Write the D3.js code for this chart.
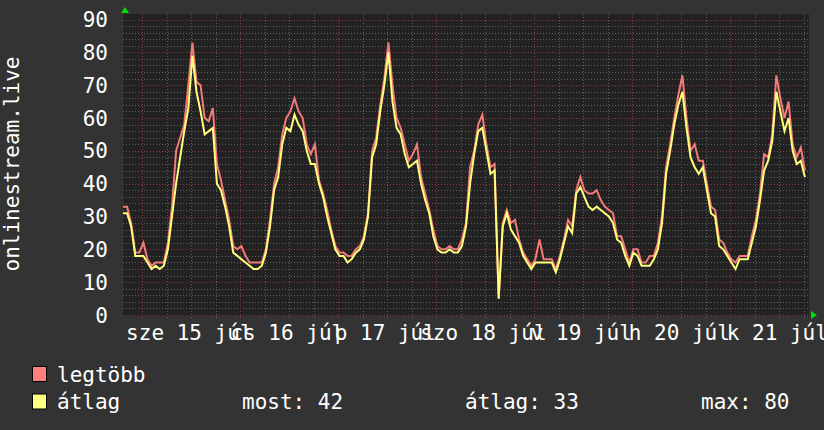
<!DOCTYPE html>
<html>
<head>
<meta charset="utf-8">
<script src="https://cdn.jsdelivr.net/npm/d3@7"></script>
<style>
  html, body { margin: 0; padding: 0; background: #333333; }
  svg { display: block; }
  text { font-family: "DejaVu Sans Mono", monospace; fill: #ffffff; }
</style>
</head>
<body>
<div id="chart"></div>
<script>
var width = 824,
	height = 430;

// data: one value per hour, starting at startTime
var startTime = new Date(2020, 6, 14, 19, 16);
var spanDays = 7;

var maxValues = [
	33, 33, 28, 19, 19, 22, 17, 15, 16, 16, 16, 22, 33, 50, 54, 58, 70, 83, 71, 70,
	60, 59, 63, 46, 41, 35, 29, 21, 20, 21, 18, 16, 16, 16, 16, 20, 29, 40, 45, 55,
	60, 62, 66, 62, 60, 52, 49, 52, 41, 37, 32, 26, 21, 19, 19, 18, 18, 20, 21, 24,
	31, 50, 54, 64, 72, 83, 70, 60, 57, 52, 47, 49, 52, 42, 37, 32, 26, 21, 20, 20,
	21, 20, 20, 23, 28, 45, 50, 58, 61, 52, 45, 46, 5, 28, 32, 28, 29, 23, 19, 17,
	15, 17, 23, 17, 17, 17, 14, 18, 23, 29, 27, 38, 42, 38, 37, 37, 38, 35, 33, 32,
	31, 24, 24, 20, 16, 20, 20, 16, 16, 18, 18, 22, 30, 45, 52, 60, 67, 73, 60, 50,
	52, 47, 47, 40, 33, 32, 23, 22, 19, 17, 16, 18, 18, 18, 24, 29, 37, 49, 48, 55,
	73, 66, 60, 65, 52, 48, 51, 44
];
var avgValues = [
	31, 31, 27, 18, 18, 18, 16, 14, 15, 14, 15, 20, 30, 40, 48, 56, 63, 79, 68, 62,
	55, 56, 57, 40, 38, 33, 27, 19, 18, 17, 16, 15, 14, 14, 15, 19, 27, 38, 42, 52,
	57, 56, 61, 58, 56, 50, 46, 46, 40, 36, 30, 25, 20, 18, 18, 16, 17, 19, 20, 23,
	30, 48, 52, 62, 70, 80, 65, 57, 55, 49, 45, 46, 47, 40, 35, 31, 24, 20, 19, 19,
	20, 19, 19, 21, 27, 40, 49, 56, 57, 50, 43, 44, 5, 27, 31, 26, 24, 22, 18, 16,
	14, 16, 16, 16, 16, 16, 13, 17, 22, 27, 25, 37, 39, 36, 33, 32, 33, 32, 31, 30,
	28, 23, 22, 18, 15, 19, 18, 15, 15, 15, 17, 20, 28, 43, 50, 58, 64, 68, 57, 48,
	45, 43, 45, 38, 31, 30, 21, 20, 18, 16, 14, 17, 17, 17, 22, 27, 35, 44, 47, 53,
	68, 62, 56, 60, 50, 46, 47, 42
];

var dayLabels = ["sze 15 júl", "cs 16 júl", "p 17 júl", "szo 18 júl", "v 19 júl", "h 20 júl", "k 21 júl"];
var firstLabelDay = new Date(2020, 6, 15);
var yTicks = [0, 10, 20, 30, 40, 50, 60, 70, 80, 90];
var yTitle = "onlinestream.live";

var legendItems = [
	{label: "legtöbb", color: "#ff7f7f"},
	{label: "átlag", color: "#ffff7f"}
];
var statLabels = ["most: 42", "átlag: 33", "max: 80"];

// layout
var plotLeft = 123, plotRight = 809, plotTop = 14, plotBottom = 316;

var x = d3.scaleTime()
	.domain([startTime, d3.timeDay.offset(startTime, spanDays)])
	.range([plotLeft, plotRight]);

var y = d3.scaleLinear()
	.domain([0, 90])
	.range([315, 19.5]);

var svg = d3.select('#chart')
	.append('svg')
	.attr('width', width)
	.attr('height', height);

svg.append('rect')
	.attr('width', width)
	.attr('height', height)
	.attr('fill', '#333333');

svg.append('rect')
	.attr('x', plotLeft)
	.attr('y', plotTop)
	.attr('width', plotRight - plotLeft)
	.attr('height', plotBottom - plotTop)
	.attr('fill', '#222222');

// horizontal grid
var yMinor = d3.range(0, 91, 2).filter(function(v) { return v % 10 != 0; });
svg.selectAll('.hminor')
	.data(yMinor)
	.enter().append('line')
	.attr('x1', plotLeft).attr('x2', plotRight)
	.attr('y1', function(d) { return Math.round(y(d)) + 0.5; })
	.attr('y2', function(d) { return Math.round(y(d)) + 0.5; })
	.attr('stroke', '#5e5e5e')
	.attr('stroke-dasharray', '1,2');

svg.selectAll('.hmajor')
	.data(yTicks)
	.enter().append('line')
	.attr('x1', plotLeft).attr('x2', plotRight)
	.attr('y1', function(d) { return Math.round(y(d)) + 0.5; })
	.attr('y2', function(d) { return Math.round(y(d)) + 0.5; })
	.attr('stroke', '#8a3a3a')
	.attr('stroke-dasharray', '1,2');

// vertical grid
var xMinor = x.ticks(d3.timeHour.every(6)).filter(function(d) { return d.getHours() != 0; });
var xMajor = x.ticks(d3.timeDay.every(1));

svg.selectAll('.vminor')
	.data(xMinor)
	.enter().append('line')
	.attr('x1', function(d) { return Math.round(x(d)) + 0.5; })
	.attr('x2', function(d) { return Math.round(x(d)) + 0.5; })
	.attr('y1', plotTop).attr('y2', 318)
	.attr('stroke', '#5e5e5e')
	.attr('stroke-dasharray', '1,2');

svg.selectAll('.vmajor')
	.data(xMajor)
	.enter().append('line')
	.attr('x1', function(d) { return Math.round(x(d)) + 0.5; })
	.attr('x2', function(d) { return Math.round(x(d)) + 0.5; })
	.attr('y1', plotTop).attr('y2', 318)
	.attr('stroke', '#8a3a3a')
	.attr('stroke-dasharray', '1,2');

// series
var times = maxValues.map(function(v, i) { return d3.timeHour.offset(startTime, i); });

var line = d3.line()
	.x(function(d, i) { return x(times[i]); })
	.y(function(d) { return y(d); });

svg.append('path')
	.attr('d', line(maxValues))
	.attr('fill', 'none')
	.attr('stroke', '#f47a7a')
	.attr('stroke-width', 2);

svg.append('path')
	.attr('d', line(avgValues))
	.attr('fill', 'none')
	.attr('stroke', '#ffff7a')
	.attr('stroke-width', 2);

// y axis labels
svg.selectAll('.ylab')
	.data(yTicks)
	.enter().append('text')
	.attr('x', 108)
	.attr('y', function(d) { return y(d); })
	.attr('dy', '0.36em')
	.attr('text-anchor', 'end')
	.style('font-size', '21px')
	.text(function(d) { return d; });

svg.append('text')
	.attr('transform', 'translate(19,164) rotate(-90)')
	.attr('text-anchor', 'middle')
	.style('font-size', '21px')
	.text(yTitle);

// x axis labels, centred on noon
svg.selectAll('.xlab')
	.data(dayLabels)
	.enter().append('text')
	.attr('x', function(d, i) { return x(d3.timeHour.offset(d3.timeDay.offset(firstLabelDay, i), 12)) - 2; })
	.attr('y', 340)
	.attr('text-anchor', 'middle')
	.style('font-size', '21px')
	.text(function(d) { return d; });

// arrows
svg.append('path')
	.attr('d', 'M121,13L125,7L129,13Z')
	.attr('fill', '#00dd00');
svg.append('path')
	.attr('d', 'M811,311L817,315L811,319Z')
	.attr('fill', '#00dd00');

// legend
var legend = svg.selectAll('.leg')
	.data(legendItems)
	.enter().append('g')
	.attr('transform', function(d, i) { return 'translate(0,' + (i * 27.5) + ')'; });

legend.append('rect')
	.attr('x', 32.5).attr('y', 366.5)
	.attr('width', 14).attr('height', 15)
	.attr('fill', function(d) { return d.color; })
	.attr('stroke', '#000');

legend.append('text')
	.attr('x', 57)
	.attr('y', 381.5)
	.style('font-size', '21px')
	.text(function(d) { return d.label; });

svg.selectAll('.stat')
	.data(statLabels)
	.enter().append('text')
	.attr('x', function(d, i) { return [242, 465, 701][i]; })
	.attr('y', 409)
	.style('font-size', '21px')
	.text(function(d) { return d; });
</script>
</body>
</html>
